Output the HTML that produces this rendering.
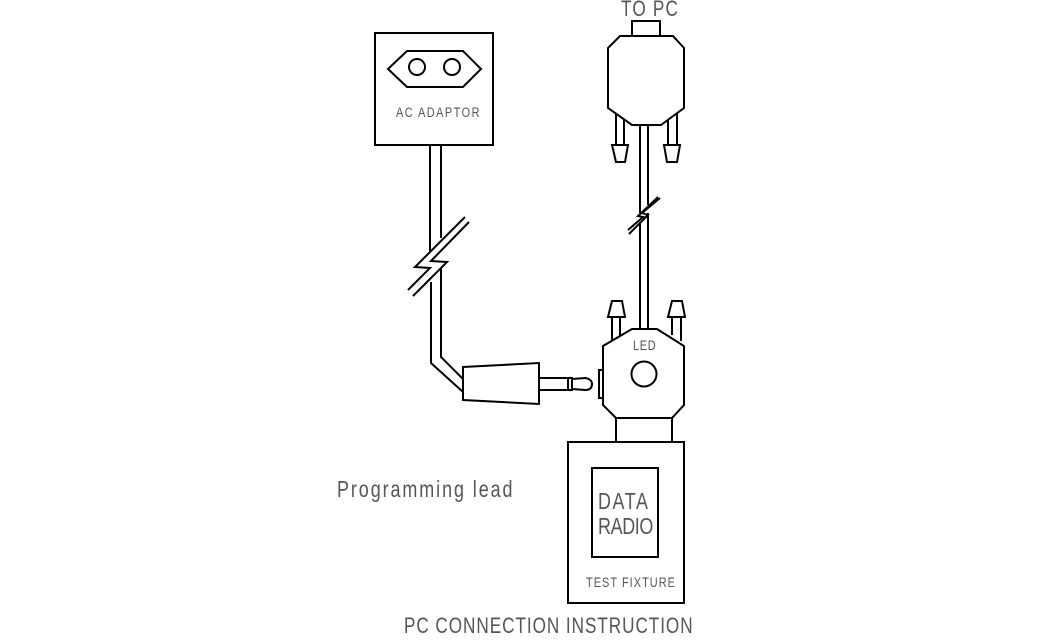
<!DOCTYPE html>
<html>
<head>
<meta charset="utf-8">
<style>
html,body{margin:0;padding:0;background:#fff;width:1039px;height:643px;overflow:hidden}
svg{display:block}
.l{fill:none;stroke:#000;stroke-width:2;stroke-linejoin:miter}
.t{font-family:"Liberation Sans",sans-serif;fill:#555;font-weight:normal}
</style>
</head>
<body>
<svg width="1039" height="643" viewBox="0 0 1039 643" xmlns="http://www.w3.org/2000/svg">
<!-- AC adaptor -->
<rect class="l" x="375" y="33" width="118" height="112"/>
<polygon class="l" points="388,69 407,51 463,51 481,69 463,87 407,87"/>
<circle class="l" cx="417" cy="67" r="8"/>
<circle class="l" cx="452" cy="67" r="8"/>
<text class="t" transform="translate(396,117) scale(.78,1)" font-size="14" textLength="107" lengthAdjust="spacing">AC ADAPTOR</text>
<!-- left cable -->
<path class="l" d="M430,145V251M441,145V238"/>
<path class="l" d="M431,282V363L463,392M441,268V357L463,379"/>
<path class="l" d="M465,217L415,267L430,268L408,290"/>
<path class="l" d="M469,222L431,261L447,262L413,296"/>
<!-- jack -->
<polygon class="l" points="463,367 539,363 539,404 463,400"/>
<path class="l" d="M539,378H568V390H539M568,378H572V390H568"/>
<path class="l" d="M572,379L585,378Q592,379 592,384Q592,390 585,390L572,389"/>
<!-- To PC connector -->
<text class="t" transform="translate(621,16) scale(.78,1)" font-size="22" textLength="73" lengthAdjust="spacing">TO PC</text>
<rect class="l" x="632" y="21" width="28" height="15"/>
<polygon class="l" points="620,36 673,36 684,48 684,108 661,125 632,125 608,108 608,48"/>
<path class="l" d="M616,114V145M624,119V145M668,120V145M677,114V145"/>
<polygon class="l" points="612,145 628,145 625,162 616,162"/>
<polygon class="l" points="664,145 680,145 677,162 667,162"/>
<!-- right cable -->
<path class="l" d="M640,125V213M648,125V205M640,222V329M648,213V329"/>
<path class="l" d="M658,197L638,216L643,217L628,230"/>
<path class="l" d="M660,198L642,213L648,215L629,234"/>
<!-- lower connector -->
<polygon class="l" points="632,329 657,329 684,346 684,405 672,418 616,418 603,405 603,346"/>
<circle class="l" cx="644" cy="374" r="12.5"/>
<rect class="l" x="599" y="370" width="4" height="28"/>
<path class="l" d="M612,317V341M620,317V337M672,317V335M681,317V341"/>
<polygon class="l" points="608,317 625,317 622,301 612,301"/>
<polygon class="l" points="668,317 685,317 682,301 672,301"/>
<text class="t" transform="translate(633,350) scale(.78,1)" font-size="14" textLength="29" lengthAdjust="spacing">LED</text>
<path class="l" d="M616,418V442M672,418V442"/>
<!-- test fixture -->
<rect class="l" x="568" y="442" width="116" height="161"/>
<rect class="l" x="592" y="468" width="66" height="89"/>
<text class="t" transform="translate(598,509) scale(.78,1)" font-size="23" textLength="64" lengthAdjust="spacing">DATA</text>
<text class="t" transform="translate(598,534) scale(.78,1)" font-size="23" textLength="71" lengthAdjust="spacing">RADIO</text>
<text class="t" transform="translate(586,587) scale(.78,1)" font-size="14" textLength="114" lengthAdjust="spacing">TEST FIXTURE</text>
<!-- labels -->
<text class="t" transform="translate(337,497) scale(.78,1)" font-size="23" textLength="225" lengthAdjust="spacing">Programming lead</text>
<text class="t" transform="translate(404,633) scale(.78,1)" font-size="22" textLength="370" lengthAdjust="spacing">PC CONNECTION INSTRUCTION</text>
</svg>
</body>
</html>
